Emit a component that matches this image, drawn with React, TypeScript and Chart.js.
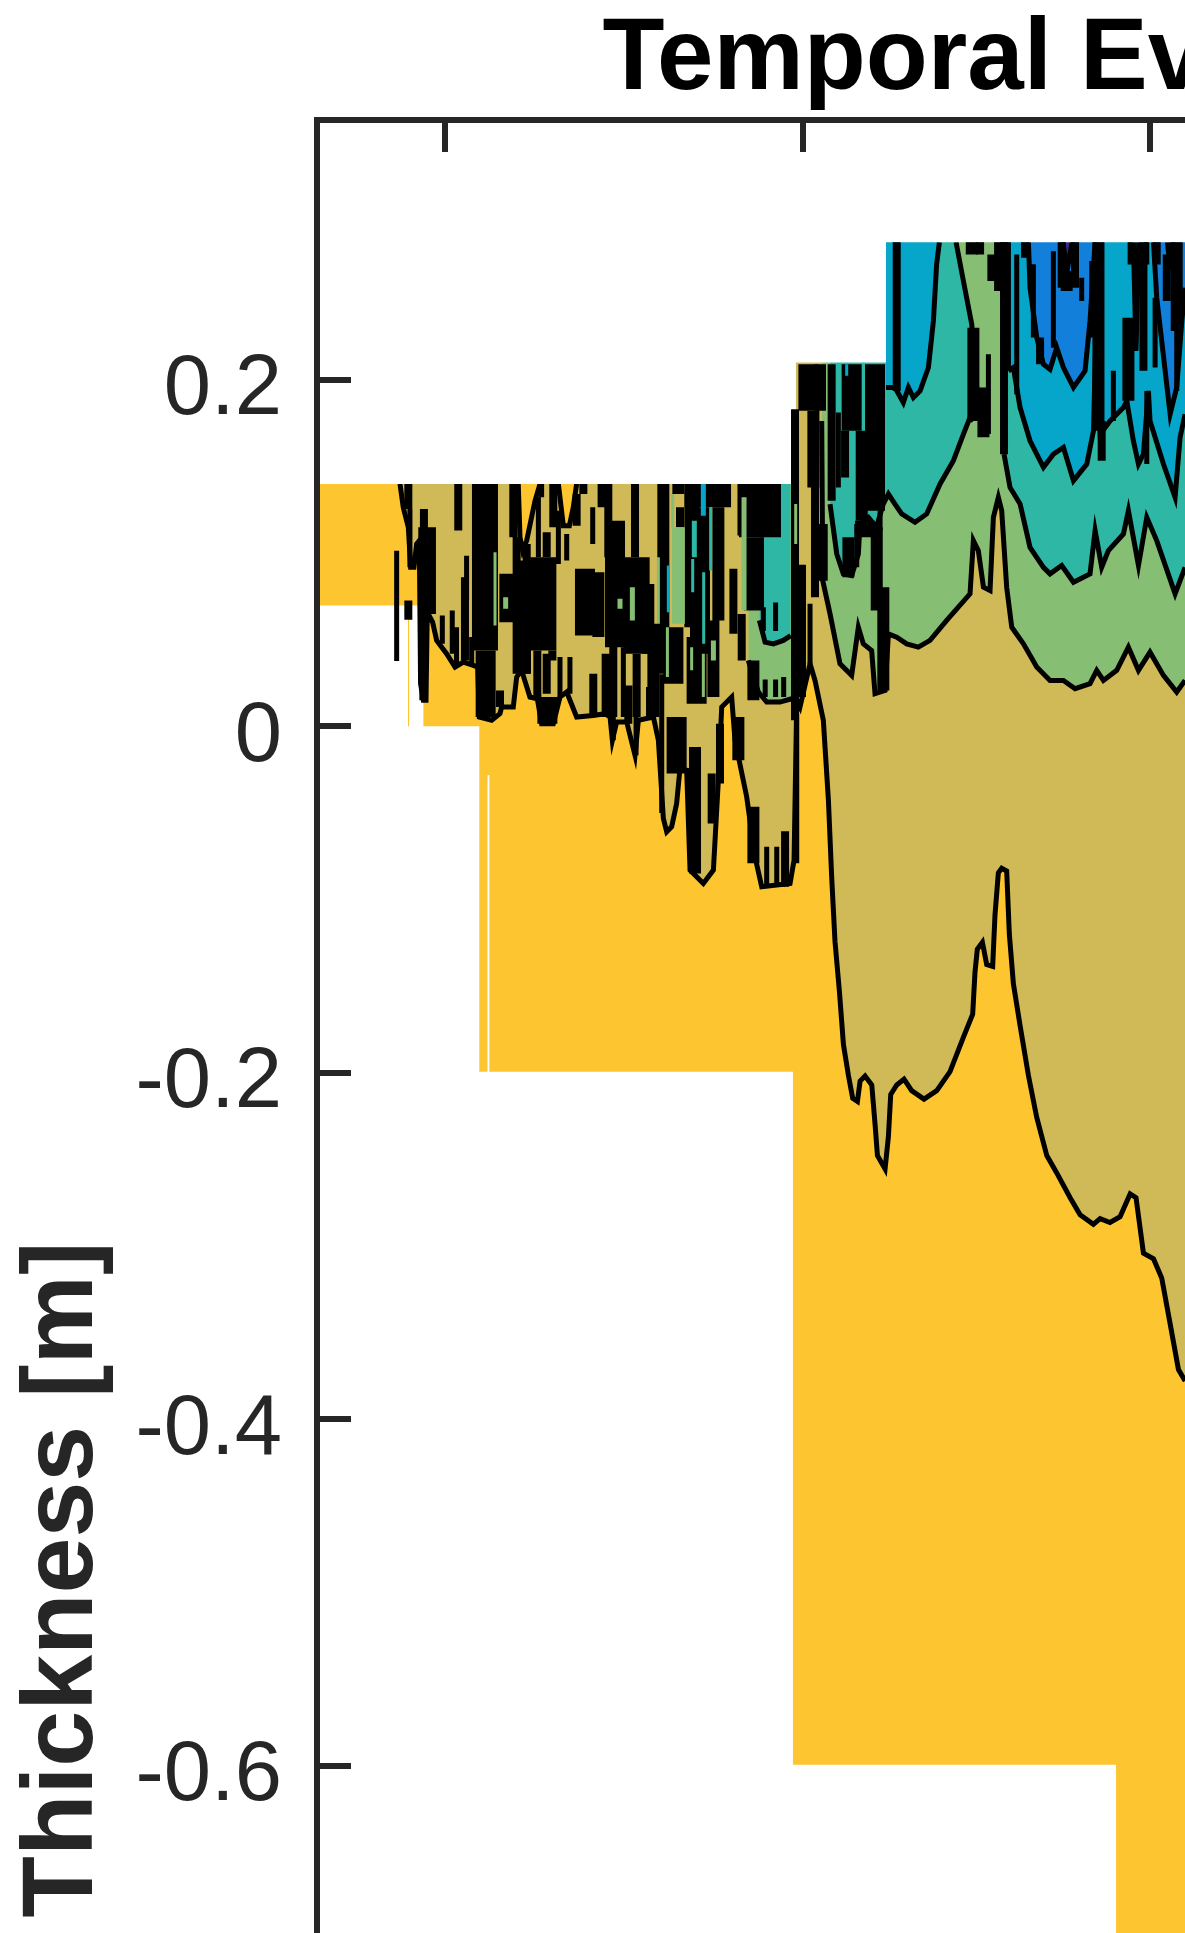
import React, { useEffect, useRef } from "react";
import { Chart, registerables } from "chart.js";

Chart.register(...registerables);

const titleText = "Temporal Evolution";
const yLabelText = "Thickness [m]";
const yTicks = [0.2, 0, -0.2, -0.4, -0.6, -0.8, -1, -1.2];
const xTicks = [0, 31, 61, 92, 122];
const DAY_MIN = -11.07;
const DAY_MAX = 147.06;

type P = number[];

const snowSurface: P[] = [[-11.07, 0.1399], [30.36, 0.1399], [30.36, 0.21], [38.15, 0.21], [38.15, 0.2795], [70, 0.2795]];
const domainBase: P[] = [[-11.07, 0.0697], [-3.2, 0.0697], [-3.2, 0], [-3.1, 0], [-3.1, 0.0697], [-1.87, 0.0697], [-1.87, 0], [2.97, 0], [2.97, -0.1994], [3.68, -0.1994], [3.68, -0.0282], [3.84, -0.0282], [3.84, -0.1994], [30.1, -0.1994], [30.1, -0.5994], [58.05, -0.5994], [58.05, -1.3], [70, -1.3]];

const contourA: P[] = [[-3.89, 0.1399], [-3.61, 0.1264], [-3.17, 0.1149], [-2.97, 0.0918], [-2.68, 0.0918], [-2.45, 0.1053], [-2.22, 0.1072], [-2.11, 0.0246], [-1.87, 0.015], [-1.64, 0.015], [-1.53, 0.0659], [-1.07, 0.0601], [-0.72, 0.0496], [0.14, 0.0419], [0.87, 0.0342], [1.59, 0.0371], [2.45, 0.0352], [2.83, 0.0342], [2.97, 0.0054], [4.04, 0.0035], [4.76, 0.0073], [4.9, 0.0111], [5.91, 0.0111], [6.2, 0.0284], [6.63, 0.0323], [7.35, 0.0169], [7.99, 0.0159], [8.36, 0.0015], [9.37, 0.0015], [9.95, 0.0169], [10.53, 0.0198], [11.39, 0.0054], [12.83, 0.0063], [13.84, 0.0073], [14.28, 0.0054], [14.48, -0.0081], [14.85, 0.0025], [15.72, 0.0025], [16.44, -0.0167], [16.73, 0.0035], [18.03, 0.0054], [18.46, -0.0081], [18.89, -0.0532], [19.18, -0.0609], [19.61, -0.058], [20.04, -0.0446], [20.33, -0.0244], [20.91, -0.0254], [21.2, -0.083], [22.35, -0.0907], [23.22, -0.083], [23.65, -0.0311], [23.94, 0.0111], [24.8, 0.0169], [25.09, -0.0081], [26.1, -0.0407], [26.82, -0.0753], [27.4, -0.0926], [29.85, -0.0907], [30.2, -0.0772], [30.43, 0.015], [30.71, 0.0111], [31.58, 0.0361], [32.01, 0.0265], [32.73, 0.0035], [33.17, -0.0427], [33.45, -0.0868], [33.74, -0.1243], [34.12, -0.153], [34.47, -0.1838], [34.9, -0.2015], [35.27, -0.2147], [35.68, -0.2165], [35.91, -0.2048], [36.34, -0.2019], [36.92, -0.207], [37.21, -0.2302], [37.41, -0.2478], [38.07, -0.2555], [38.36, -0.2368], [38.56, -0.2125], [39.08, -0.207], [39.71, -0.2037], [40.37, -0.2103], [41.44, -0.2152], [42.54, -0.2103], [43.69, -0.1993], [44.85, -0.1794], [45.65, -0.1662], [45.85, -0.142], [46.05, -0.1287], [46.49, -0.1247], [46.86, -0.1375], [47.38, -0.1386], [47.58, -0.1089], [47.87, -0.0846], [48.16, -0.0819], [48.59, -0.0835], [48.82, -0.1199], [49.17, -0.1486], [49.75, -0.1728], [50.47, -0.2015], [51.19, -0.2258], [52.06, -0.2478], [52.92, -0.2578], [54.08, -0.2721], [54.94, -0.282], [56.09, -0.2875], [56.67, -0.2842], [57.53, -0.2864], [58.4, -0.2831], [59.27, -0.2699], [59.78, -0.2721], [60.42, -0.3041], [61.29, -0.3074], [62, -0.3184], [62.73, -0.3449], [63.45, -0.3713], [64.03, -0.3779]];
const pocketsWarmA: P[] = [[6.34, 0.1399], [6.49, 0.1091], [6.72, 0.1014], [7.07, 0.1072], [7.79, 0.1302], [8.22, 0.1399]];
const pocketsWarmB: P[] = [[9.81, 0.1399], [10.24, 0.1158], [10.76, 0.1158], [11.1, 0.1264], [11.39, 0.1399]];

const contourB1: P[] = [[26.24, 0.038], [27.11, 0.0198], [27.83, 0.014], [28.98, 0.014], [29.99, 0.0159]];
const contourB2: P[] = [[32.59, 0.1763], [32.68, 0.0841], [33.31, 0.0649], [34.17, 0.0361], [35.18, 0.0294], [35.76, 0.0572], [36.19, 0.0476], [36.91, 0.0438], [37.2, 0.0188], [38.07, 0.0207], [38.36, 0.0534], [39.08, 0.0515], [39.94, 0.0476], [40.95, 0.0457], [41.96, 0.0496], [43.4, 0.0611], [45.42, 0.0765], [45.71, 0.1072], [46.14, 0.1014], [46.58, 0.0803], [47.15, 0.0784], [47.44, 0.1206], [47.87, 0.1322], [48.16, 0.1245], [48.59, 0.0803], [49.03, 0.0572], [50.04, 0.0476], [51.19, 0.0342], [52.34, 0.0265], [53.5, 0.0265], [54.51, 0.0217], [55.8, 0.0246], [56.38, 0.0323], [56.96, 0.0265], [58.11, 0.0323], [59.12, 0.0457], [59.99, 0.0323], [60.99, 0.0428], [62.15, 0.0294], [63.3, 0.0198], [64.02, 0.0265]];

const contourC1: P[] = [[27.2, 0.0611], [27.69, 0.0486], [28.41, 0.0476], [29.27, 0.0496], [29.91, 0.0524]];
const contourC2: P[] = [[33.31, 0.1283], [33.89, 0.0995], [34.46, 0.088], [35.18, 0.087], [35.76, 0.0995], [35.9, 0.1168], [36.63, 0.1206], [37.33, 0.1149], [37.91, 0.1283], [38.36, 0.1341], [38.93, 0.1283], [39.51, 0.1226], [40.66, 0.1178], [41.67, 0.1226], [42.83, 0.1399], [43.98, 0.1533], [44.85, 0.1687], [45.42, 0.1783], [45.71, 0.1763]];
const contourC3: P[] = [[48.36, 0.1571], [48.88, 0.1379], [49.75, 0.1283], [50.61, 0.1033], [51.77, 0.0918], [52.34, 0.088], [53.35, 0.0928], [54.37, 0.0832], [55.8, 0.088], [56.24, 0.113], [56.81, 0.0918], [57.39, 0.1014], [58.69, 0.111], [59.12, 0.1245], [59.99, 0.0928], [60.71, 0.1206], [61.57, 0.1072], [63.16, 0.0765], [64.02, 0.0918]];
const pocketCool: P[] = [[44.21, 0.2795], [44.85, 0.257], [45.57, 0.2321], [46, 0.1956]];

const contourD1: P[] = [[38.15, 0.1956], [38.93, 0.1956], [39.65, 0.1869], [40.09, 0.1956], [40.52, 0.1898], [41.1, 0.1936], [41.82, 0.2071], [42.25, 0.234], [42.53, 0.2666], [42.77, 0.2795]];
const contourD2: P[] = [[48.74, 0.2052], [49.17, 0.2071], [49.75, 0.184], [50.61, 0.1648], [51.77, 0.1495], [52.63, 0.1571], [53.5, 0.161], [54.37, 0.1418], [55.52, 0.1514], [56.1, 0.1706], [56.3, 0.2244], [56.68, 0.1687], [57.53, 0.1763], [58.69, 0.184], [58.98, 0.1879], [59.55, 0.1648], [59.99, 0.1514], [60.42, 0.1571], [60.85, 0.1936], [60.99, 0.1763], [62.15, 0.1514], [63.16, 0.1322], [63.59, 0.1667], [64.02, 0.1802]];

const contourE1: P[] = [[50.47, 0.2795], [50.61, 0.2532], [51.19, 0.2244], [51.77, 0.209], [52.34, 0.2061], [52.92, 0.2186], [53.5, 0.2071], [54.37, 0.1956], [55.37, 0.2052], [55.8, 0.234], [56.24, 0.2795]];
const contourE2: P[] = [[59.55, 0.2795], [59.78, 0.2167], [60.01, 0.2795]];
const contourE3: P[] = [[61.29, 0.2795], [61.57, 0.2474], [62.73, 0.1802], [63.3, 0.1956], [63.74, 0.234], [64.02, 0.2532]];
const contourF1: P[] = [[53.44, 0.2795], [53.84, 0.2638], [54.25, 0.2795]];
const contourF2: P[] = [[62.5, 0.2795], [62.73, 0.2638], [62.96, 0.2795]];

// dense isoline runs: [day, upper thickness, lower thickness]
const denseFine: P[] = [[-4.18, 0.1014, 0.0377], [-3.03, 0.1254, 0.0918], [1.87, 0.0985, 0.0726], [8.36, 0.1399, 0.1322], [8.08, 0.1322, 0.0976], [9.81, 0.1245, 0.0937], [10.53, 0.111, 0.0957], [12.78, 0.1264, 0.1053], [14.56, 0.0054, -0.0081], [15.43, 0.0457, 0.0054], [9.95, 0.04, 0.0169], [10.81, 0.04, 0.0188], [16.53, 0.0054, -0.0167], [49.46, 0.2724, 0.1917], [50.9, 0.2667, 0.2244], [52.63, 0.2743, 0.2186], [55.08, 0.259, 0.2455], [55.95, 0.2686, 0.2244], [57.82, 0.2052, 0.1763], [59.27, 0.2795, 0.2666], [60.71, 0.2795, 0.2666], [60.71, 0.1936, 0.1514], [61.43, 0.2474, 0.2071], [34.03, 0.1811, 0.1379], [35.62, 0.1168, 0.0918], [37.64, 0.1245, 0.113], [31.58, 0.0707, 0.0361], [47.01, 0.2148, 0.1687], [27.54, 0.0688, 0.055], [28.6, 0.0715, 0.055], [27.83, -0.0695, -0.0926], [28.7, -0.0695, -0.0926], [27.7, 0.027, 0.0169], [28.6, 0.027, 0.0169], [29.3, 0.0284, 0.0169], [30.43, 0.0073, -0.0791], [-0.23, 0.064, 0.0476], [0.63, 0.0669, 0.0419], [1, 0.0572, 0.0342], [2.31, 0.0515, 0.0352], [18.75, 0.03, -0.05], [25.52, 0.1399, 0.1101], [63.3, 0.2282, 0.1936], [48.74, 0.2795, 0.2052]];
const denseMid: P[] = [[-3.17, 0.0726, 0.0615], [-3.17, 0.1399, 0.1254], [-1.82, 0.1254, 0.1072], [-1.87, 0.0649, 0.015], [1.15, 0.1399, 0.113], [1.73, 0.0861, 0.038], [5.91, 0.1399, 0.1091], [6.2, 0.1091, 0.0304], [8.8, 0.112, 0.0976], [7.07, 0.1053, 0.0304], [9.37, 0.1399, 0.1149], [11.97, 0.1399, 0.1341], [11.39, 0.1341, 0.1158], [13.55, 0.1399, 0.1264], [14.13, 0.1399, 0.0976], [16.44, 0.1399, 0.0976], [14.56, 0.0496, 0.0054], [16.58, 0.0419, 0.0054], [12.83, 0.0304, 0.0054], [15.86, 0.0236, 0.0015], [17.74, 0.0227, 0.0054], [4.76, 0.0207, 0.0111], [30.28, 0.1831, 0.0899], [30.28, 0.0899, 0.0035], [32.01, 0.1418, 0.0745], [33.45, 0.209, 0.1302], [34.61, 0.1706, 0.1437], [39.08, 0.2795, 0.1936], [56.81, 0.1763, 0.1533], [51.48, 0.2244, 0.209], [50.18, 0.2795, 0.2705], [46.29, 0.2795, 0.2724], [62.44, 0.2724, 0.2455], [21.05, 0.1399, 0.0572], [24.95, 0.0909, 0.0534], [23.07, -0.0273, -0.0561], [23.79, 0.0015, -0.033], [29.42, -0.0606, -0.0926], [7.99, 0.0438, 0.0169], [8.8, 0.0419, 0.0188], [9.29, 0.0438, 0.038], [13.9, 0.0419, 0.0054], [20.33, 0.1264, 0.1149], [21.63, 0.1399, 0.1187], [25.67, 0.0649, 0.038], [53.35, 0.2795, 0.2532], [54.5, 0.2795, 0.2532], [60.42, 0.2795, 0.2052], [61.57, 0.2795, 0.2666], [48.36, 0.2795, 0.1571]];
const denseHeavy: P[] = [[-1.79, 0.1149, 0.0649], [-1.3, 0.1149, 0.0649], [13.27, 0.0889, 0.0515], [18.89, 0.1399, 0.0304], [17.59, 0.0822, 0.0419], [6.92, 0.0957, 0.0304], [18.03, 0.0592, 0.0054], [20.19, 0.1399, 0.1341], [31.87, 0.1821, 0.1379], [32.44, 0.209, 0.1821], [32.59, 0.1168, 0.0841], [34.9, 0.1091, 0.0861], [36.05, 0.1706, 0.1187], [37.35, 0.1149, 0.0668], [37.92, 0.0803, 0.0207], [48.02, 0.2795, 0.2513], [47.44, 0.2724, 0.257], [45.71, 0.2301, 0.1763], [56.53, 0.2795, 0.1706], [59.12, 0.2359, 0.1879], [63.3, 0.2795, 0.2282], [45.57, 0.2795, 0.2724], [23.65, 0.1264, 0.0611], [23.22, 0.0611, 0.0169], [21.63, -0.0119, -0.0849], [25.38, 0.0054, -0.0196], [26.68, -0.0465, -0.0791], [26.68, 0.038, 0.015], [30.71, 0.0933, 0.0169], [53.78, 0.2628, 0.2513], [46.58, 0.1956, 0.1668]];
const denseBlock: P[] = [[3.52, 0.0438, 0.0054], [5.57, 0.088, 0.0601], [8.86, 0.0169, 0.0015], [12.11, 0.0909, 0.0524], [14.71, 0.1187, 0.0457], [31.44, 0.209, 0.1821], [35.18, 0.209, 0.1706], [37.2, 0.209, 0.1245], [36.34, 0.1187, 0.1091], [26.73, 0.1091, 0.0669], [22.06, 0.1264, 0.0419], [19.76, 0.0572, 0.0246], [21.77, 0.0515, 0.0131], [20.04, 0.0054, -0.0273]];
const denseWide: P[] = [[3.46, 0.1399, 0.0438], [8.51, 0.0976, 0.0438], [16.58, 0.0976, 0.0419]];
const denseSheet: P[] = [[22.93, 0.1399, 0.1264], [27.25, 0.1399, 0.1091]];

// narrow tongues of warmer ice showing between dense isolines
const greenFine: P[] = [[4.33, 0.1005, 0.0582], [18.46, 0.0976, 0.0592], [19.24, 0.0572, 0.0284], [21.34, 0.0457, 0.0323], [22.35, 0.0419, 0.0169], [30.34, 0.1283, 0.1053], [19.7, 0.1341, 0.1149]];
const greenMid: P[] = [[15.14, 0.0736, 0.0678], [16.21, 0.0803, 0.0611], [5.25, 0.0745, 0.0678], [25.87, 0.1322, 0.0669], [23.22, 0.0496, 0.038]];
const greenWide: P[] = [[20.19, 0.1149, 0.0592]];
const tealFine: P[] = [[22.98, 0.1264, 0.0899], [21.43, 0.0966, 0.0774], [22.38, 0.0889, 0.0476]];
const tealMid: P[] = [[21.57, 0.1187, 0.0976]];
const blueFine: P[] = [[19.32, 0.0928, 0.0659], [34.75, 0.209, 0.2023]];
const blueMid: P[] = [[22.35, 0.1399, 0.1216]];

const C = { warm: "#FDC631", khaki: "#D0B957", green: "#86BF74", teal: "#2FB7A5", blue: "#05A6C9", deep: "#1280DA", indigo: "#352A87", ink: "#000000", axis: "#262626" };
const LINE = 5;

const toPts = (a: P[]) => a.map(([x, y]) => ({ x, y }));
const band = (a: P[], color: string, line = true) => ({ type: "line", data: toPts(a), fill: "end", backgroundColor: color, borderColor: C.ink, borderWidth: line ? LINE : 0, pointRadius: 0, tension: 0 });
const runs = (a: P[], color: string, width: number) => ({ type: "line", data: a.flatMap(([x, t, b]) => [{ x, y: t }, { x, y: b }, { x, y: null }]), fill: false, borderColor: color, borderWidth: width, borderCapStyle: "butt", pointRadius: 0, tension: 0, spanGaps: false });

export default function App() {
  const ref = useRef<HTMLCanvasElement>(null);
  useEffect(() => {
    const ordered = [
      band(domainBase, C.warm, false),
      band(contourA, C.khaki),
      band(pocketsWarmA, C.warm),
      band(pocketsWarmB, C.warm),
      band(contourB1, C.green),
      band(contourB2, C.green),
      band(contourC1, C.teal),
      band(contourC2, C.teal),
      band(contourC3, C.teal),
      band(pocketCool, C.green),
      band(contourD1, C.blue),
      band(contourD2, C.blue),
      band(contourE1, C.deep),
      band(contourE2, C.deep),
      band(contourE3, C.deep),
      band(contourF1, C.indigo),
      band(contourF2, C.indigo),
      band(snowSurface, "#ffffff", false),
      runs(denseFine, C.ink, 5),
      runs(denseMid, C.ink, 8),
      runs(denseHeavy, C.ink, 12),
      runs(denseBlock, C.ink, 20),
      runs(denseWide, C.ink, 26),
      runs(denseSheet, C.ink, 42),
      runs(greenFine, C.green, 3),
      runs(greenMid, C.green, 5),
      runs(greenWide, C.green, 13),
      runs(tealFine, C.teal, 3),
      runs(tealMid, C.teal, 5),
      runs(blueFine, C.blue, 3),
      runs(blueMid, C.blue, 5),
    ].map((d, i) => ({ ...d, order: 1000 - i }));

    const chart = new Chart(ref.current!, {
      type: "line",
      data: { datasets: ordered as any },
      options: {
        animation: false,
        responsive: false,
        devicePixelRatio: 1,
        layout: { padding: { left: 0, right: 0, top: 0, bottom: 20 } },
        font: { family: "'Liberation Sans', Arial, sans-serif" },
        plugins: {
          legend: { display: false },
          tooltip: { enabled: false },
          title: { display: true, text: titleText, color: "#000000", font: { family: "'Liberation Sans'", size: 101.5, weight: "bold", lineHeight: 1.17 }, padding: 0 },
        },
        scales: {
          x: {
            type: "linear", position: "top", min: DAY_MIN, max: DAY_MAX,
            afterBuildTicks: (s: any) => { s.ticks = xTicks.map((value) => ({ value })); },
            afterFit: (s: any) => { s.height = 0; },
            ticks: { display: false, z: 1 },
            grid: { drawOnChartArea: false, drawTicks: true, tickLength: -32, color: C.axis, lineWidth: 6, z: 1 },
            border: { display: true, color: C.axis, width: 6, z: 1 },
          },
          y: {
            type: "linear", position: "left", min: -1.335, max: 0.35,
            afterBuildTicks: (s: any) => { s.ticks = yTicks.map((value) => ({ value })); },
            afterFit: (s: any) => { s.width = 317; },
            title: { display: true, text: yLabelText, color: C.axis, font: { family: "'Liberation Sans'", size: 100.5, weight: "bold", lineHeight: 1.2 }, padding: { top: 4, bottom: 0 } },
            ticks: { autoSkip: false, color: C.axis, padding: 69, labelOffset: 11, z: 1, font: { family: "'Liberation Sans'", size: 85 }, callback: (v: any) => (v === 0 ? "0" : Number(v).toFixed(1)) },
            grid: { drawOnChartArea: false, drawTicks: true, tickLength: -34, color: C.axis, lineWidth: 6, z: 1 },
            border: { display: true, color: C.axis, width: 6, z: 1 },
          },
        },
      } as any,
    });
    return () => chart.destroy();
  }, []);

  return (
    <div style={{ position: "fixed", left: 0, top: 0, width: 1185, height: 1933, overflow: "hidden", background: "#ffffff" }}>
      <canvas ref={ref} width={2145} height={3159} style={{ display: "block" }} />
    </div>
  );
}
